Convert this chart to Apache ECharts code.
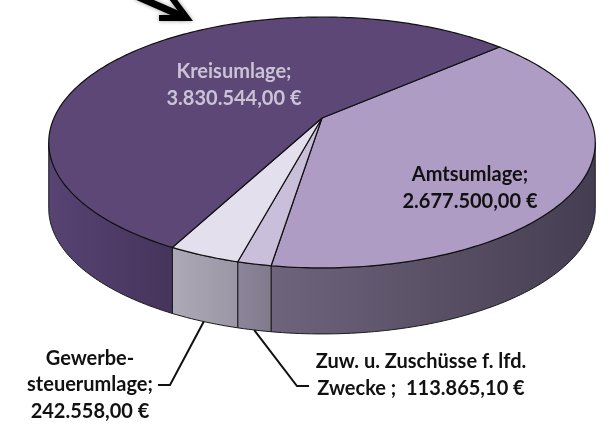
<!DOCTYPE html>
<html>
<head>
<meta charset="utf-8">
<script src="https://cdn.jsdelivr.net/npm/echarts@6/dist/echarts.min.js"></script>
<style>
  html, body { margin: 0; padding: 0; background: #fff; }
  #main { width: 608px; height: 430px; }
</style>
</head>
<body>
<div id="main"></div>
<script>
// slices, clockwise from the back edge
var names = ['Amtsumlage', 'Zuw. u. Zuschüsse f. lfd. Zwecke', 'Gewerbesteuerumlage', 'Kreisumlage'];
var values = [2677500.00, 113865.10, 242558.00, 3830544.00];
var labelHeads = ['Amtsumlage;', 'Zuw. u. Zuschüsse f. lfd.\nZwecke ; ', 'Gewerbe-\nsteuerumlage;', 'Kreisumlage;'];
var labelSeps = ['\n', ' ', '\n', '\n'];

var topColors = ['#ae9cc5', '#c9bfdb', '#e3dfec', '#5d4777'];
var sideColors = [['#6e647c', '#453d51'], ['#8d8599', '#817a8d'], ['#aea9b6', '#9b96a5'], ['#584373', '#45345b']];
var labelColors = ['#111', '#111', '#111', '#cbc3d5'];
var labelPos = [[470, 188], [421, 375], [90, 385], [234, 85]];
var leaderPts = [null, [[297, 386], [309, 386]], [[170, 385], [158, 385]], null];

// perspective of the tilted disc
var CX = 322, CY = 118, A = 268, B = 120.7, K = 0.195, DEPTH = 66, START = -41.6;
var VIS0 = Math.asin(K) * 180 / Math.PI, VIS1 = 180 - VIS0;

var total = values.reduce(function (s, v) { return s + v; }, 0);
var starts = [];
var acc = START;
values.forEach(function (v) { starts.push(acc); acc += v / total * 360; });

function proj(deg, r, dy) {
    var t = deg * Math.PI / 180;
    var u = r * Math.cos(t), v = r * Math.sin(t);
    var w = 1 - K * v;
    return [CX + A * u / w, CY + B * v / w + (dy || 0)];
}
function arcPts(a0, a1, r, dy) {
    var n = Math.max(2, Math.ceil(Math.abs(a1 - a0) / 1));
    var pts = [];
    for (var k = 0; k <= n; k++) pts.push(proj(a0 + (a1 - a0) * k / n, r, dy));
    return pts;
}
function euro(v) {
    var p = v.toFixed(2).split('.');
    return p[0].replace(/\B(?=(\d{3})+(?!\d))/g, '.') + ',' + p[1] + ' €';
}

function renderSide(params, api) {
    var i = params.dataIndex;
    var span = api.value(0) / total * 360;
    var a0 = Math.max(starts[i], VIS0), a1 = Math.min(starts[i] + span, VIS1);
    if (a1 <= a0) return null;
    var pts = arcPts(a0, a1, 1, 0).concat(arcPts(a1, a0, 1, DEPTH));
    return {
        type: 'polygon',
        shape: { points: pts },
        style: {
            fill: new echarts.graphic.LinearGradient(0, 0, 1, 0, [
                { offset: 0, color: sideColors[i][0] },
                { offset: 1, color: sideColors[i][1] }
            ]),
            stroke: '#1a1a1a',
            lineWidth: 1
        }
    };
}

function renderTop(params, api) {
    var i = params.dataIndex;
    var span = api.value(0) / total * 360;
    var a0 = starts[i], a1 = a0 + span;
    var children = [{
        type: 'polygon',
        shape: { points: [[CX, CY]].concat(arcPts(a0, a1, 1, 0)) },
        style: { fill: topColors[i], stroke: '#111', lineWidth: 1.2 }
    }];
    if (leaderPts[i]) {
        var mid = (a0 + a1) / 2;
        children.push({
            type: 'polyline',
            shape: { points: [proj(mid, 1, DEPTH)].concat(leaderPts[i]) },
            style: { stroke: '#111', lineWidth: 2, fill: null }
        });
    }
    children.push({
        type: 'text',
        x: labelPos[i][0],
        y: labelPos[i][1],
        style: {
            text: labelHeads[i] + labelSeps[i] + euro(api.value(0)),
            fill: labelColors[i],
            fontFamily: 'Lato',
            fontWeight: 'bold',
            fontSize: 20,
            lineHeight: 26.5,
            align: 'center',
            verticalAlign: 'middle'
        }
    });
    return { type: 'group', children: children };
}

var myChart = echarts.init(document.getElementById('main'));
var data = values.map(function (v, i) { return { name: names[i], value: [v] }; });

var option = {
    animation: false,
    graphic: [{
        type: 'polyline',
        shape: { points: [[136, -4], [184, 17]] },
        style: { stroke: '#000', lineWidth: 7, fill: null, shadowBlur: 4, shadowColor: 'rgba(0,0,0,0.4)' }
    }, {
        type: 'polyline',
        shape: { points: [[159, 18], [187, 18], [172, -2]] },
        style: { stroke: '#000', lineWidth: 6, fill: null, lineJoin: 'miter', shadowBlur: 4, shadowColor: 'rgba(0,0,0,0.4)' }
    }],
    series: [{
        type: 'custom',
        coordinateSystem: 'none',
        renderItem: renderSide,
        data: data,
        z: 1
    }, {
        type: 'custom',
        coordinateSystem: 'none',
        renderItem: renderTop,
        data: data,
        z: 2
    }]
};
myChart.setOption(option);
</script>
</body>
</html>
